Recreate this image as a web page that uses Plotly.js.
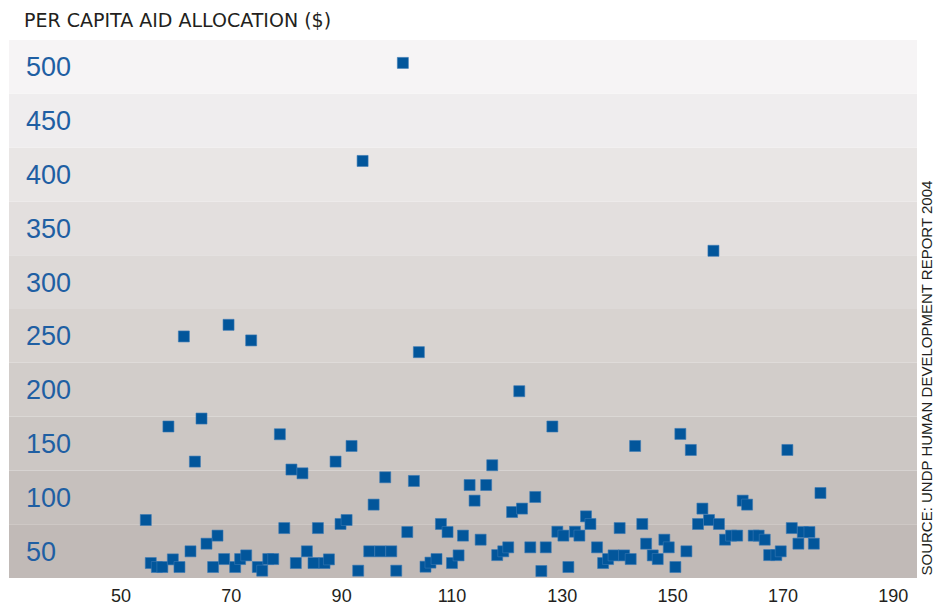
<!DOCTYPE html>
<html>
<head>
<meta charset="utf-8">
<script src="https://cdn.plot.ly/plotly-3.0.1.min.js"></script>
<style>html,body{margin:0;padding:0;background:#fff;}#chart{width:935px;height:607px;}</style>
</head>
<body>
<div id="chart"></div>
<script>
// x values (unlabelled index scale) and per capita aid allocation ($)
const xVals = [
  101.1, 93.8, 157.4, 69.5, 61.4, 73.6, 104.0, 122.2,
  58.6, 64.6, 78.8, 63.4, 80.9, 82.9, 91.8, 88.9, 97.9, 103.1, 117.3, 113.2, 116.2, 114.1, 95.8,
  128.2, 143.2, 151.4, 153.3, 170.8, 176.8, 125.1, 162.7, 163.5,
  54.5, 79.6, 85.7, 67.5, 65.5, 62.6, 83.7, 55.4, 56.5, 57.5, 59.4, 60.6, 66.7, 68.7, 70.7, 71.6,
  72.7, 74.8, 75.6, 76.7, 77.6, 81.7, 84.9, 86.9, 87.7,
  120.9, 122.7, 89.8, 90.9, 108.0, 109.2, 101.9, 112.0, 115.2, 95.0, 97.0, 99.0, 93.0, 99.9,
  105.2, 106.1, 107.2, 110.0, 111.2, 118.2, 119.3, 120.2,
  155.4, 134.3, 135.1, 140.4, 144.5, 154.6, 156.6, 158.4, 129.1, 130.2, 132.3, 133.1, 124.2, 127.0,
  136.3, 145.2, 148.5, 149.3, 152.5, 126.2, 131.1, 137.4, 138.3, 139.3, 141.2, 142.4, 146.4, 147.3, 150.5,
  159.5, 160.6, 161.7, 164.7, 165.6, 166.7, 167.5, 168.8, 169.6, 171.6, 173.6, 174.8, 172.8, 175.6
];
const aidVals = [
  503.7, 412.6, 329.1, 260.3, 249.5, 245.8, 234.9, 198.6,
  165.8, 173.2, 158.6, 133.2, 125.8, 122.3, 147.7, 133.2, 118.6, 115.2, 129.8, 111.4, 111.4, 96.9, 93.2,
  165.8, 147.7, 158.9, 144.0, 144.0, 104.0, 100.3, 96.9, 93.2,
  78.9, 71.4, 71.4, 64.4, 56.9, 49.8, 49.8, 38.9, 35.2, 35.2, 42.3, 35.2, 35.2, 42.6, 35.2, 42.6,
  46.0, 35.2, 31.8, 42.6, 42.6, 38.9, 38.9, 38.9, 42.3,
  86.3, 89.5, 75.2, 78.9, 75.2, 67.7, 67.7, 64.4, 60.6, 49.8, 49.8, 49.8, 31.8, 31.8,
  35.5, 39.3, 42.6, 38.9, 46.0, 46.3, 49.8, 53.5,
  89.5, 82.3, 75.2, 71.4, 75.2, 75.2, 78.9, 75.2, 68.0, 64.4, 68.0, 64.4, 53.5, 53.5,
  53.5, 56.9, 60.6, 53.5, 49.8, 31.5, 35.2, 38.9, 42.6, 46.0, 46.0, 42.6, 46.0, 42.6, 35.2,
  60.6, 64.4, 64.4, 64.4, 64.4, 60.6, 46.3, 46.3, 49.8, 71.4, 67.7, 67.7, 56.9, 56.9
];
const xTicks = [50, 70, 90, 110, 130, 150, 170, 190];
const yTicks = [50, 100, 150, 200, 250, 300, 350, 400, 450, 500];
const bandEdges = [25, 75, 125, 175, 225, 275, 325, 375, 425, 475, 525];
const bandColors = ['#c1bab7', '#c6c0bd', '#ccc7c4', '#d2cdca', '#d8d3d0', '#ddd9d7', '#e3dfde', '#e9e6e5', '#efedee', '#f6f4f5'];

const shapes = bandColors.map((c, i) => ({
  type: 'rect', xref: 'paper', yref: 'y', layer: 'below',
  x0: 0, x1: 1, y0: bandEdges[i], y1: bandEdges[i + 1],
  fillcolor: c, line: {width: 0}
}));

const trace = {
  type: 'scatter', mode: 'markers', x: xVals, y: aidVals,
  marker: {symbol: 'square', size: 11, color: '#02569b', line: {width: 0.6, color: '#3b79b3'}},
  hoverinfo: 'x+y'
};

const layout = {
  width: 935, height: 607,
  margin: {l: 9, r: 18, t: 40, b: 29, pad: 0},
  paper_bgcolor: '#ffffff', plot_bgcolor: '#ffffff',
  showlegend: false,
  shapes: shapes,
  title: {
    text: 'PER CAPITA AID ALLOCATION ($)',
    xref: 'container', yref: 'container', x: 0.0257, xanchor: 'left', y: 0.966, yanchor: 'middle',
    font: {family: 'DejaVu Sans, Arial, sans-serif', size: 19, color: '#231f20'}
  },
  xaxis: {
    range: [29.7, 194.3], tickvals: xTicks, ticktext: xTicks.map(String),
    showgrid: false, zeroline: false, showline: false, ticks: '',
    tickfont: {family: 'Liberation Sans, Arial, sans-serif', size: 18, color: '#231f20'},
    ticklabelstandoff: 5
  },
  yaxis: {
    range: [25, 525], tickvals: yTicks, ticktext: yTicks.map(String),
    showgrid: false, zeroline: false, showline: false, ticks: '',
    ticklabelposition: 'inside', ticklabelstandoff: 14,
    tickfont: {family: 'Liberation Sans, Arial, sans-serif', size: 27, color: '#1f5fa3'}
  },
  annotations: [{
    text: 'SOURCE: UNDP HUMAN DEVELOPMENT REPORT 2004',
    xref: 'paper', yref: 'paper', x: 1, y: 0, xshift: 9, xanchor: 'center', yanchor: 'bottom',
    textangle: -90, showarrow: false,
    font: {family: 'Liberation Sans, Arial, sans-serif', size: 15, color: '#231f20'}
  }]
};

Plotly.newPlot('chart', [trace], layout, {displayModeBar: false, staticPlot: true});
</script>
</body>
</html>
